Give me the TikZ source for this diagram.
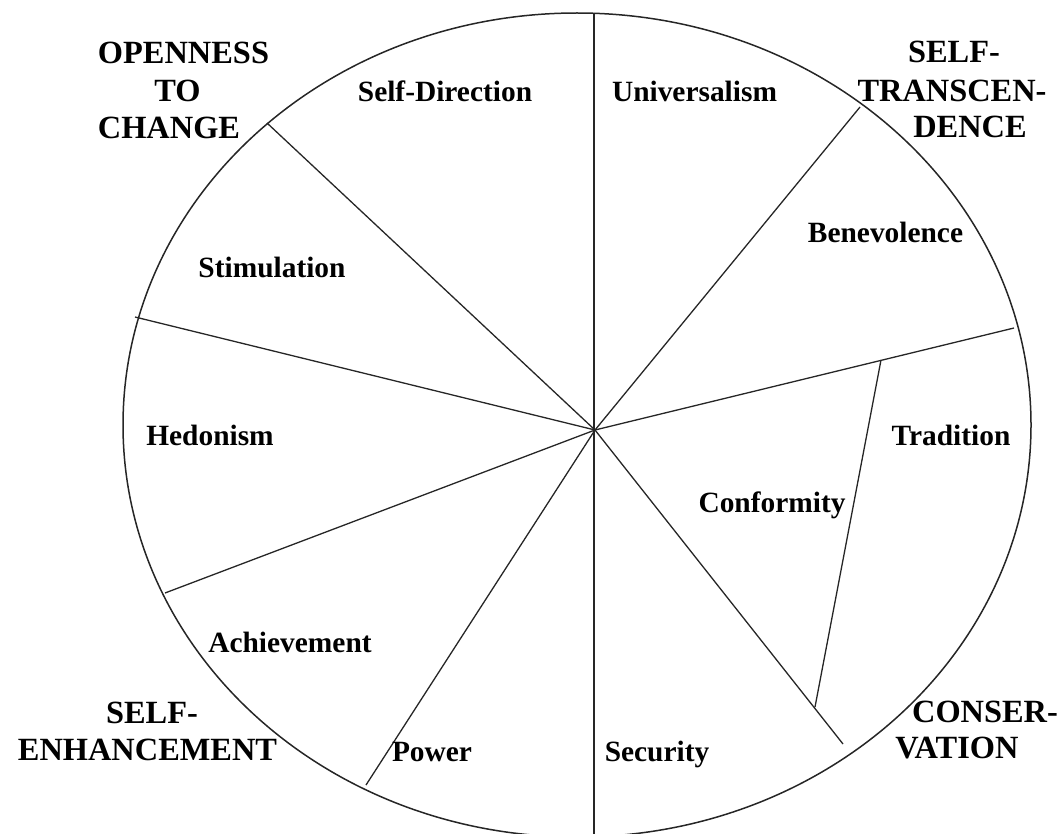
\documentclass[tikz,border=0pt]{standalone}
\usepackage{fontspec}
\setmainfont{Liberation Serif}
\begin{document}
\begin{tikzpicture}[x=1pt,y=-1pt,
  lab/.style={font=\fontsize{29.4}{32}\selectfont\bfseries, anchor=base, inner sep=0pt},
  head/.style={font=\fontsize{32.4}{36}\selectfont\bfseries, anchor=base, inner sep=0pt},
  spoke/.style={draw=black!85, line width=1.3pt},
  rim/.style={draw=black!85, line width=1.5pt}]
\useasboundingbox (0,0) rectangle (1064,834);
\clip (0,0) rectangle (1064,834);
% rim
\draw[rim] (577,425) ellipse [x radius=454, y radius=412];
% spoke coordinates
\coordinate (c) at (595,430);
\coordinate (top) at (594,13);
\coordinate (bot) at (594,840);
\coordinate (ur) at (860,107);
\coordinate (r) at (1014,328);
\coordinate (lr) at (843,744);
\coordinate (ll) at (366,785);
\coordinate (lw) at (165,593);
\coordinate (l) at (135,317);
\coordinate (ul) at (267,123);
\coordinate (ct1) at (881,360);
\coordinate (ct2) at (815,707);
% spokes
\draw[spoke, line width=1.8pt] (top) -- (bot);
\foreach \e in {ur,r,lr,ll,lw,l,ul} \draw[spoke] (c) -- (\e);
\draw[spoke] (ct1) -- (ct2);
% value labels
\node[lab] (sd) at (445,102) {Self-Direction};
\node[lab] (un) at (694.5,102) {Universalism};
\node[lab] (be) at (885.5,242) {Benevolence};
\node[lab] (st) at (272,277) {Stimulation};
\node[lab] (he) at (210,445) {Hedonism};
\node[lab] (tr) at (951,445) {Tradition};
\node[lab] (co) at (772,512) {Conformity};
\node[lab] (ac) at (290,652) {Achievement};
\node[lab] (po) at (432,761) {Power};
\node[lab] (se) at (657,761) {Security};
% higher-order labels
\node[head] (o1) at (183.5,64) {OPENNESS};
\node[head] (o2) at (177.5,102) {TO};
\node[head] (o3) at (169,139) {CHANGE};
\node[head] (t1) at (954,63) {SELF-};
\node[head] (t2) at (952,102) {TRANSCEN-};
\node[head] (t3) at (970,138) {DENCE};
\node[head] (e1) at (152,723) {SELF-};
\node[head] (e2) at (147.5,760) {ENHANCEMENT};
\node[head] (v1) at (985,722) {CONSER-};
\node[head] (v2) at (957,758) {VATION};
\end{tikzpicture}
\end{document}
